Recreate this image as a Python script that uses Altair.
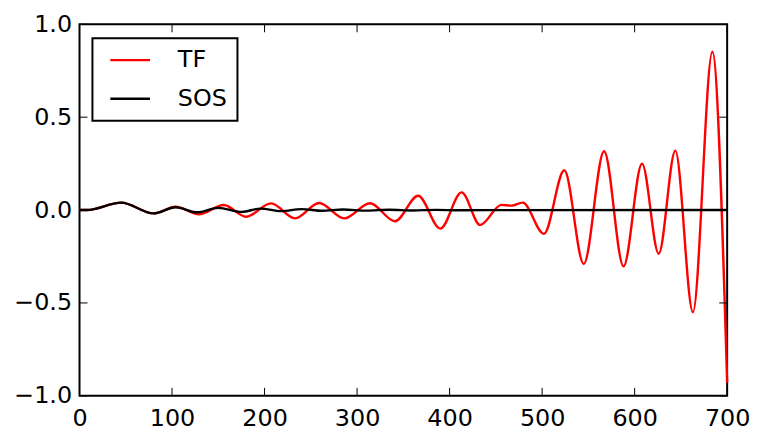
import altair as alt
import pandas as pd

# TF (transfer-function filter) response
tf_x = [0, 8, 45, 80, 104, 129, 156, 180, 207, 233, 259, 286, 314, 341, 366, 390, 413, 433, 456, 467,
        479, 502, 524, 545, 567, 588, 608, 626, 644, 663, 684, 700]
tf_y = [0.0, 0.0, 0.04, -0.018, 0.018, -0.023, 0.027, -0.036, 0.036, -0.045, 0.038, -0.045, 0.037, -0.06,
        0.077, -0.10, 0.095, -0.08, 0.028, 0.024, 0.04, -0.128, 0.214, -0.29, 0.317, -0.303, 0.25, -0.235,
        0.32, -0.55, 0.852, -0.93]

# SOS (second-order sections) response
sos_x = [0, 8, 45, 80, 104, 127, 150, 175, 196, 218, 240, 262, 285, 310, 335, 360, 385, 410, 440, 700]
sos_y = [0.0, 0.0, 0.04, -0.018, 0.015, -0.012, 0.012, -0.01, 0.008, -0.006, 0.005, -0.004, 0.003,
         -0.003, 0.002, -0.002, 0.001, -0.001, 0.0, 0.0]

series_names = ["TF", "SOS"]
series_colors = ["red", "black"]

x_ticks = [0, 100, 200, 300, 400, 500, 600, 700]
y_ticks = [-1.0, -0.5, 0.0, 0.5, 1.0]

W, H = 652, 374
TICK = 8
FONT = "DejaVu Sans"
LW = 2.4

tf_df = pd.DataFrame({"x": tf_x, "y": tf_y, "series": "TF"})
sos_df = pd.DataFrame({"x": sos_x, "y": sos_y, "series": "SOS"})
xt_df = pd.DataFrame({"x": x_ticks})
yt_df = pd.DataFrame({"y": y_ticks})

xscale = alt.Scale(domain=[0, 700], nice=False, zero=False)
yscale = alt.Scale(domain=[-1, 1], nice=False, zero=False)
cscale = alt.Scale(domain=series_names, range=series_colors)

xaxis = alt.Axis(values=x_ticks, format="d", title=None, labelFlush=False, labelPadding=11)
yaxis = alt.Axis(values=y_ticks, format=".1f", title=None, labelFlush=False, labelPadding=8)

legend = alt.Legend(title=None, orient="none", legendX=13, legendY=14, symbolType="M-2,0H2",
                    symbolSize=400, symbolStrokeWidth=LW, symbolOffset=16, labelFontSize=24,
                    labelFont=FONT, labelOffset=36, padding=10, rowPadding=15, strokeColor="black",
                    fillColor="white", cornerRadius=0, labelColor="black")

X = alt.X("x:Q", scale=xscale, axis=xaxis)
Y = alt.Y("y:Q", scale=yscale, axis=yaxis)

tf_line = alt.Chart(tf_df).mark_line(strokeWidth=LW, interpolate="monotone").encode(
    x=X, y=Y, color=alt.Color("series:N", scale=cscale, legend=legend),
)
sos_line = alt.Chart(sos_df).mark_line(strokeWidth=LW, interpolate="monotone").encode(
    x=X, y=Y, color=alt.Color("series:N", scale=cscale, legend=legend),
)

# inward tick marks on all four sides
left_ticks = alt.Chart(yt_df).mark_rule(color="black", strokeWidth=1).encode(
    y=Y, x=alt.value(0), x2=alt.value(TICK))
right_ticks = alt.Chart(yt_df).mark_rule(color="black", strokeWidth=1).encode(
    y=Y, x=alt.value(W - TICK), x2=alt.value(W))
bottom_ticks = alt.Chart(xt_df).mark_rule(color="black", strokeWidth=1).encode(
    x=X, y=alt.value(H - TICK), y2=alt.value(H))
top_ticks = alt.Chart(xt_df).mark_rule(color="black", strokeWidth=1).encode(
    x=X, y=alt.value(0), y2=alt.value(TICK))

chart = alt.layer(tf_line, sos_line, left_ticks, right_ticks, bottom_ticks, top_ticks).properties(
    width=W, height=H,
    padding={"left": 5, "top": 3, "right": 0, "bottom": 0},
    background="white",
).configure_view(
    stroke="black", strokeWidth=2
).configure_axis(
    domain=False, ticks=False, grid=False, labelFontSize=24, labelFont=FONT, labelColor="black"
).configure_legend(
    strokeWidth=2
)

chart.save("out.html", embed_options={"renderer": "svg", "actions": False})
